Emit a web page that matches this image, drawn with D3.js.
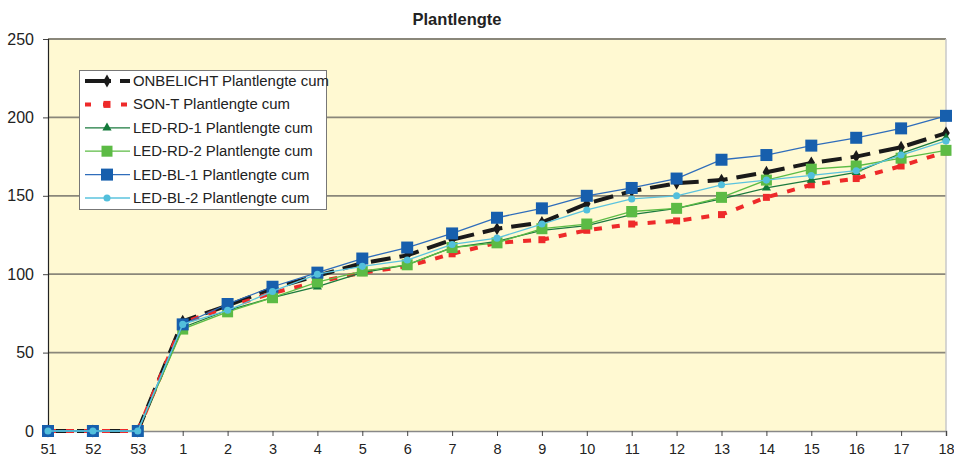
<!DOCTYPE html>
<html>
<head>
<meta charset="utf-8">
<script src="https://cdn.jsdelivr.net/npm/d3@7/dist/d3.min.js"></script>
<style>
  html, body { margin: 0; padding: 0; background: #ffffff; }
  svg { display: block; font-family: "Liberation Sans", Arial, sans-serif; }
</style>
</head>
<body>
<svg id="chart" width="954" height="459"></svg>
<script>
const weeks = ["51","52","53","1","2","3","4","5","6","7","8","9","10","11","12","13","14","15","16","17","18"];
const yTicks = [0, 50, 100, 150, 200, 250];
const onbelicht = [0,0,0,70,80,91,99,107,112,122,129,133,145,153,158,160,165,171,175,181,190];
const sonT      = [0,0,0,69,79,88,95,101,105,113,120,122,128,132,134,138,149,157,161,169,178];
const ledRd1    = [0,0,0,66,77,85,92,101,106,117,121,128,131,138,142,148,155,160,165,177,187];
const ledRd2    = [0,0,0,65,76,85,95,102,106,117,120,129,132,140,142,149,160,167,169,174,179];
const ledBl1    = [0,0,0,68,81,92,101,110,117,126,136,142,150,155,161,173,176,182,187,193,201];
const ledBl2    = [0,0,0,68,77,89,100,105,109,119,123,132,141,148,150,157,160,163,166,176,185];
const seriesNames = ["ONBELICHT Plantlengte cum","SON-T Plantlengte cum","LED-RD-1 Plantlengte cum","LED-RD-2 Plantlengte cum","LED-BL-1 Plantlengte cum","LED-BL-2 Plantlengte cum"];

const series = [
  {name: seriesNames[0], values: onbelicht, line: "#1a1a1a", width: 4, dash: "20,9", marker: "diamond", mfill: "#1a1a1a", msize: 9},
  {name: seriesNames[1], values: sonT, line: "#ee2a2a", width: 4, dash: "8,10", marker: "square", mfill: "#ee2a2a", msize: 7},
  {name: seriesNames[2], values: ledRd1, line: "#1b7a3e", width: 1.3, dash: null, marker: "triangle", mfill: "#137a3a", msize: 9},
  {name: seriesNames[3], values: ledRd2, line: "#5cbb45", width: 1.3, dash: null, marker: "square", mfill: "#5cbb45", msize: 11},
  {name: seriesNames[4], values: ledBl1, line: "#2f6dbb", width: 1.3, dash: null, marker: "square", mfill: "#175fad", msize: 12},
  {name: seriesNames[5], values: ledBl2, line: "#5bc3de", width: 1.3, dash: null, marker: "circle", mfill: "#52bfdc", msize: 7}
];

const svg = d3.select("#chart");
const pLeft = 48, pRight = 946, pTop = 39, pBottom = 431;

const x = d3.scalePoint().domain(weeks).range([pLeft, pRight]);
const y = d3.scaleLinear().domain([0, 250]).range([pBottom, pTop]);

// plot background
svg.append("rect").attr("x", pLeft).attr("y", pTop).attr("width", pRight - pLeft).attr("height", pBottom - pTop)
  .attr("fill", "#fff9d2");

// gridlines
svg.append("g").selectAll("line").data(yTicks.filter(d => d > 0)).join("line")
  .attr("x1", pLeft).attr("x2", pRight).attr("y1", d => y(d)).attr("y2", d => y(d))
  .attr("stroke", "#8a877a").attr("stroke-width", 1.8);

// right border
svg.append("line").attr("x1", pRight).attr("x2", pRight).attr("y1", pTop).attr("y2", pBottom)
  .attr("stroke", "#c8c8c8").attr("stroke-width", 1.5);

// y axis
const yAxis = d3.axisLeft(y).tickValues(yTicks).tickSize(5).tickPadding(9);
const gy = svg.append("g").attr("transform", `translate(${pLeft},0)`).call(yAxis);
gy.select(".domain").attr("stroke", "#222").attr("stroke-width", 1.2);
gy.selectAll(".tick line").attr("stroke", "#444");
gy.selectAll("text").attr("font-size", 16).attr("fill", "#222").attr("font-family", "Liberation Sans, Arial, sans-serif");

// x axis
const xAxis = d3.axisBottom(x).tickSize(5).tickPadding(8);
const gx = svg.append("g").attr("transform", `translate(0,${pBottom})`).call(xAxis);
gx.select(".domain").attr("stroke", "#888").attr("stroke-width", 1.6);
gx.selectAll(".tick line").attr("stroke", "#444");
gx.selectAll("text").attr("font-size", 14.5).attr("fill", "#222").attr("font-family", "Liberation Sans, Arial, sans-serif");

function symbolFor(m, size) {
  const area = size * size;
  if (m === "diamond") return d3.symbol().type(d3.symbolDiamond).size(area * 0.6)();
  if (m === "triangle") return d3.symbol().type(d3.symbolTriangle).size(area * 0.45)();
  if (m === "circle") return d3.symbol().type(d3.symbolCircle).size(area * 0.8)();
  return d3.symbol().type(d3.symbolSquare).size(area)();
}

const line = d3.line().x((d, i) => x(weeks[i])).y(d => y(d));

series.forEach(s => {
  const g = svg.append("g");
  g.append("path").datum(s.values).attr("d", line)
    .attr("fill", "none").attr("stroke", s.line).attr("stroke-width", s.width)
    .attr("stroke-dasharray", s.dash);
  g.selectAll("path.m").data(s.values).join("path").attr("class", "m")
    .attr("transform", (d, i) => `translate(${x(weeks[i])},${y(d)})`)
    .attr("d", symbolFor(s.marker, s.msize)).attr("fill", s.mfill);
});

// title
svg.append("text").attr("x", 457).attr("y", 25).attr("text-anchor", "middle")
  .attr("font-size", 16.5).attr("font-weight", "bold").attr("fill", "#222").text("Plantlengte");

// legend
const lg = svg.append("g");
lg.append("rect").attr("x", 79.5).attr("y", 70.5).attr("width", 247).attr("height", 139)
  .attr("fill", "#ffffff").attr("stroke", "#777").attr("stroke-width", 1);
series.forEach((s, i) => {
  const cy = 81 + i * 23.4;
  lg.append("line").attr("x1", 85).attr("x2", 130).attr("y1", cy).attr("y2", cy)
    .attr("stroke", s.line).attr("stroke-width", s.width)
    .attr("stroke-dasharray", s.dash ? (i === 0 ? "26,9" : "6,12") : null);
  lg.append("path").attr("transform", `translate(107,${cy})`)
    .attr("d", symbolFor(s.marker, s.msize)).attr("fill", s.mfill);
  lg.append("text").attr("x", 133).attr("y", cy + 5).attr("font-size", 14.9).attr("fill", "#222").text(s.name);
});
</script>
</body>
</html>
